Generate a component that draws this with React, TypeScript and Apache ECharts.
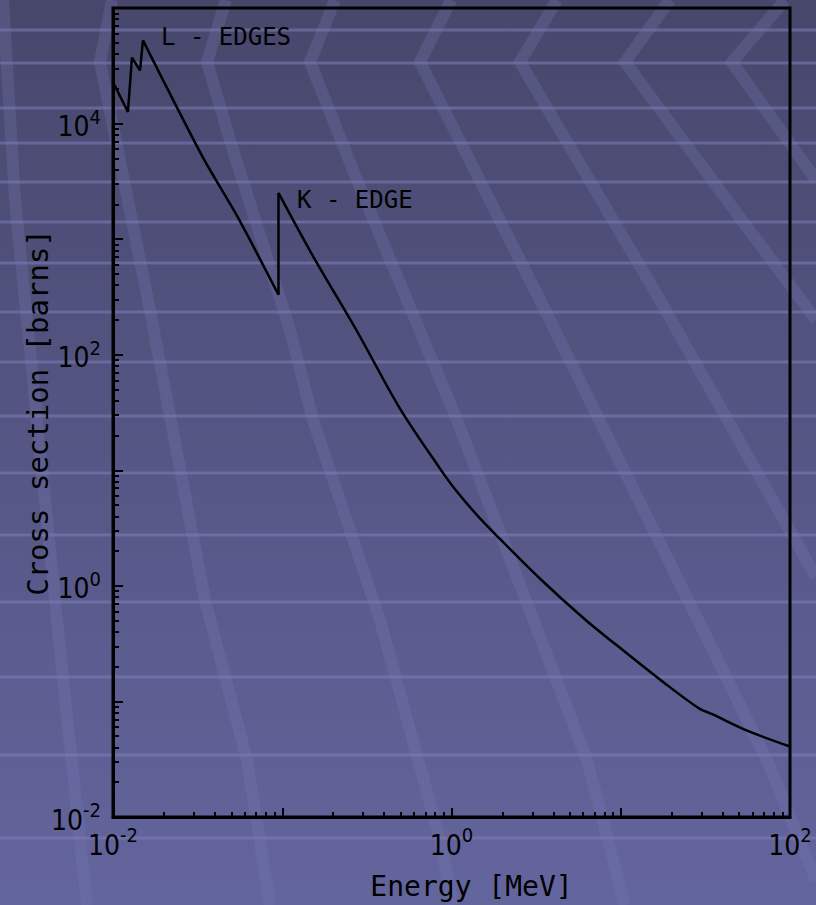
import React, { useEffect, useRef } from "react";
import * as echarts from "echarts";

// Photon cross section vs energy
const energyMeV = [
  0.01, 0.01225, 0.01294, 0.01445, 0.01503, 0.0339, 0.0546, 0.095, 0.095,
  0.151, 0.275, 0.493, 0.849, 1.07, 1.46, 1.92, 3.3, 6.25, 9.4, 18.5, 29.0,
  34.7, 57.3, 100,
];
const crossSectionBarns = [
  22900, 12600, 37200, 28800, 52500, 5130, 1550, 330, 2510, 724, 162, 34.7,
  10.5, 6.61, 3.89, 2.57, 1.17, 0.501, 0.309, 0.141, 0.0871, 0.0776, 0.055,
  0.0407,
];
// index ranges of the curve pieces: L-edge zigzag, photo-effect slope below K, K-edge jump, above K
const pieces = [
  { from: 0, to: 4, smooth: false },
  { from: 4, to: 7, smooth: 0.25 },
  { from: 7, to: 8, smooth: false },
  { from: 8, to: 23, smooth: 0.3 },
];

const xLabelValues = [0.01, 1, 100];
const yLabelValues = [0.01, 1, 100, 10000];
const xDecades = [0.01, 0.1, 1, 10, 100];
const yDecades = [0.01, 0.1, 1, 10, 100, 1000, 10000, 100000];
const minorSteps = [2, 3, 4, 5, 6, 7, 8, 9];

const xTitle = "Energy [MeV]";
const yTitle = "Cross section [barns]";
const annotationTexts = ["L - EDGES", "K - EDGE"];

const NUM_FONT = '"Liberation Sans Narrow", "DejaVu Sans Condensed", "Liberation Sans", sans-serif';
const TXT_FONT = '"DejaVu Sans Mono", monospace';

function minorOf(decades: number[]) {
  const out: number[] = [];
  decades.slice(0, -1).forEach((d) => minorSteps.forEach((m) => out.push(+(d * m).toPrecision(6))));
  return out;
}

const supFmt = (v: number) => {
  const e = Math.round(Math.log10(v));
  return `{b|10}{s|${e}}`;
};

const rich = {
  b: { fontSize: 28, fontFamily: NUM_FONT, color: "#000", verticalAlign: "bottom", lineHeight: 34 },
  s: { fontSize: 20, fontFamily: NUM_FONT, color: "#000", verticalAlign: "top", lineHeight: 34 },
};

// decorative slide background
const hLines = [30, 63, 108, 143, 182, 222, 263, 312, 362, 416, 473, 535, 602, 677, 755, 838];
const bands: number[][][] = [
  [[3, 0], [15, 200], [60, 650], [87, 905]],
  [[112, 0], [100, 62], [148, 300], [205, 600], [247, 760], [270, 905]],
  [[226, 0], [207, 62], [233, 150], [290, 330], [313, 420], [380, 620], [440, 840], [453, 905]],
  [[335, 0], [310, 62], [357, 180], [407, 300], [457, 420], [587, 760], [625, 905]],
  [[451, 0], [420, 62], [540, 300], [767, 760], [816, 880]],
  [[557, 0], [520, 62], [660, 300], [816, 577]],
  [[670, 0], [625, 62], [727, 200], [816, 320]],
  [[785, 0], [732, 62], [816, 180]],
];

export default function App() {
  const ref = useRef<HTMLDivElement>(null);
  useEffect(() => {
    if (!ref.current) return;
    const chart = echarts.init(ref.current, null, { renderer: "svg" });
    const grid = { left: 113, right: 26, top: 8, bottom: 88 };
    const bg: any[] = [
      {
        type: "rect",
        z: -20,
        shape: { x: 0, y: 0, width: 816, height: 905 },
        style: {
          fill: new echarts.graphic.LinearGradient(0, 0, 0, 1, [
            { offset: 0, color: "#47476c" },
            { offset: 1, color: "#63659d" },
          ]),
        },
        silent: true,
      },
      ...hLines.map((y) => ({
        type: "line",
        z: -19,
        silent: true,
        shape: { x1: 0, y1: y, x2: 816, y2: y },
        style: { stroke: "rgba(130,130,190,0.5)", lineWidth: 3 },
      })),
      ...bands.map((pts) => ({
        type: "polyline",
        z: -18,
        silent: true,
        shape: { points: pts },
        style: { stroke: "rgba(125,125,180,0.26)", lineWidth: 12, fill: null, lineJoin: "miter" },
      })),
      {
        type: "text",
        z: 50,
        x: 161,
        y: 37,
        style: { text: annotationTexts[0], font: `24px ${TXT_FONT}`, fill: "#000", verticalAlign: "middle" },
      },
      {
        type: "text",
        z: 50,
        x: 297,
        y: 200,
        style: { text: annotationTexts[1], font: `24px ${TXT_FONT}`, fill: "#000", verticalAlign: "middle" },
      },
    ];

    const pts = energyMeV.map((e, i) => [e, crossSectionBarns[i]]);

    chart.setOption({
      animation: false,
      graphic: { elements: bg },
      grid: [
        { ...grid, show: true, borderColor: "#000", borderWidth: 3, backgroundColor: "transparent" },
        { ...grid },
      ],
      xAxis: [
        {
          type: "log",
          logBase: 10,
          min: 0.01,
          max: 100,
          gridIndex: 0,
          name: xTitle,
          nameLocation: "middle",
          nameGap: 55,
          nameTextStyle: { fontFamily: TXT_FONT, fontSize: 28, color: "#000", padding: [0, 0, 0, 40] },
          axisLine: { lineStyle: { color: "#000", width: 3 } },
          axisTick: { inside: true, length: 9, lineStyle: { color: "#000", width: 2 }, customValues: xDecades },
          axisLabel: { customValues: xLabelValues, formatter: supFmt, rich, margin: 8 },
          splitLine: { show: false },
        },
        {
          type: "log",
          logBase: 10,
          min: 0.01,
          max: 100,
          gridIndex: 1,
          axisLine: { show: false },
          axisTick: { inside: true, length: 5, lineStyle: { color: "#000", width: 2 }, customValues: minorOf(xDecades) },
          axisLabel: { show: false },
          splitLine: { show: false },
        },
      ],
      yAxis: [
        {
          type: "log",
          logBase: 10,
          min: 0.01,
          max: 100000,
          gridIndex: 0,
          name: yTitle,
          nameLocation: "middle",
          nameGap: 61,
          nameMoveOverlap: false,
          nameRotate: 90,
          nameTextStyle: { fontFamily: TXT_FONT, fontSize: 29, color: "#000" },
          axisLine: { lineStyle: { color: "#000", width: 3 } },
          axisTick: { inside: true, length: 10, lineStyle: { color: "#000", width: 2 }, customValues: yDecades },
          axisLabel: { customValues: yLabelValues, formatter: supFmt, rich, margin: 12 },
          splitLine: { show: false },
        },
        {
          type: "log",
          logBase: 10,
          min: 0.01,
          max: 100000,
          gridIndex: 1,
          axisLine: { show: false },
          axisTick: { inside: true, length: 6, lineStyle: { color: "#000", width: 2 }, customValues: minorOf(yDecades) },
          axisLabel: { show: false },
          splitLine: { show: false },
        },
      ],
      series: pieces.map((p) => ({
        type: "line",
        xAxisIndex: 0,
        yAxisIndex: 0,
        data: pts.slice(p.from, p.to + 1),
        smooth: p.smooth,
        showSymbol: false,
        symbol: "none",
        lineStyle: { color: "#000", width: 2.5 },
        z: 5,
      })),
    });
    return () => chart.dispose();
  }, []);
  return (
    <div
      ref={ref}
      style={{ position: "absolute", left: 0, top: 0, width: 816, height: 905 }}
    />
  );
}
